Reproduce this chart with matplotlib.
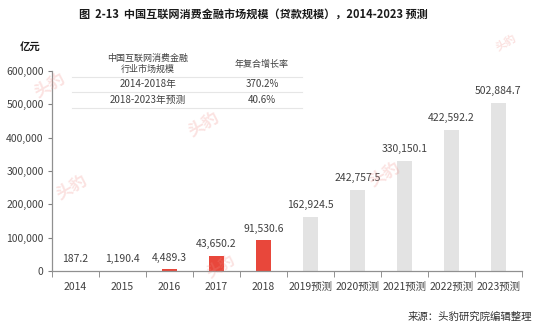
import matplotlib
matplotlib.use("Agg")
import matplotlib.pyplot as plt

plt.rcParams['font.family'] = ['Noto Sans CJK SC', 'DejaVu Sans']

years = ['2014', '2015', '2016', '2017', '2018',
         '2019预测', '2020预测', '2021预测', '2022预测', '2023预测']
values = [187.2, 1190.4, 4489.3, 43650.2, 91530.6,
          162924.5, 242757.5, 330150.1, 422592.2, 502884.7]
n_actual = 5

table_head = ['中国互联网消费金融\n行业市场规模', '年复合增长率']
table_rows = [['2014-2018年', '370.2%'],
              ['2018-2023年预测', '40.6%']]

red = '#E8473B'
grey = '#E3E3E3'
txt = '#404040'

fig = plt.figure(figsize=(5.5, 3.28), dpi=100)
ax = fig.add_axes([0.0945, 0.1738, 0.8545, 0.6098])

x = list(range(len(years)))
colors = [red] * n_actual + [grey] * (len(years) - n_actual)
ax.bar(x, values, width=0.3, color=colors, zorder=2)

for xi, v in zip(x, values):
    ax.annotate(f'{v:,.1f}', (xi, v), xytext=(0, 5), textcoords='offset points',
                ha='center', va='bottom', fontsize=7.5, color=txt)

ax.set_xlim(-0.5, len(years) - 0.5)
ax.set_ylim(0, 600000)
ax.set_yticks(range(0, 600001, 100000))
ax.set_yticklabels([f'{t:,}' for t in range(0, 600001, 100000)])
ax.set_xticks(x)
ax.set_xticklabels(years)
ax.set_xticks([i - 0.5 for i in range(len(years) + 1)], minor=True)
ax.tick_params(axis='x', which='major', length=0, pad=8, labelsize=7.5, labelcolor=txt)
ax.tick_params(axis='x', which='minor', length=4, color='#808080', direction='out')
ax.tick_params(axis='y', length=3, color='#808080', labelsize=7.5, labelcolor=txt, pad=3)

for s in ['top', 'right']:
    ax.spines[s].set_visible(False)
for s in ['left', 'bottom']:
    ax.spines[s].set_color('#909090')
    ax.spines[s].set_linewidth(0.9)

# growth-rate table in the upper left corner
col_x = [148 / 550, 262 / 550]
line_y = [1 - 77 / 328, 1 - 92 / 328, 1 - 108 / 328]
for cx, head in zip(col_x, table_head):
    fig.text(cx, 1 - 64 / 328, head, ha='center', va='center', fontsize=6.5,
             color=txt, linespacing=1.3)
for row, yc in zip(table_rows, [1 - 84.5 / 328, 1 - 100 / 328]):
    for cx, cell in zip(col_x, row):
        fig.text(cx, yc, cell, ha='center', va='center', fontsize=7, color=txt)
for ly in line_y:
    fig.add_artist(plt.Line2D([72 / 550, 302 / 550], [ly, ly], color='#E6E6E6',
                              lw=0.8, transform=fig.transFigure))

# faint logo marks
for wx, wy, sz in [(0.09, 0.74, 12), (0.37, 0.62, 12), (0.70, 0.47, 12),
                   (0.13, 0.43, 12), (0.40, 0.19, 11), (0.92, 0.87, 8)]:
    fig.text(wx, wy, '头豹', fontsize=sz, color='#F08C86', alpha=0.25,
             rotation=30, ha='center', va='center', fontweight='bold')

fig.text(0.46, 0.955, '图  2-13  中国互联网消费金融市场规模（贷款规模），2014-2023 预测',
         ha='center', va='center', fontsize=8, fontweight='bold', color='#1a1a1a')
fig.text(0.036, 0.853, '亿元', ha='left', va='center', fontsize=7.5,
         fontweight='bold', color='#1a1a1a')
fig.text(0.968, 0.035, '来源：头豹研究院编辑整理', ha='right', va='center',
         fontsize=7.5, style='italic', color='#333333')

fig.savefig('out.png', dpi=100)
